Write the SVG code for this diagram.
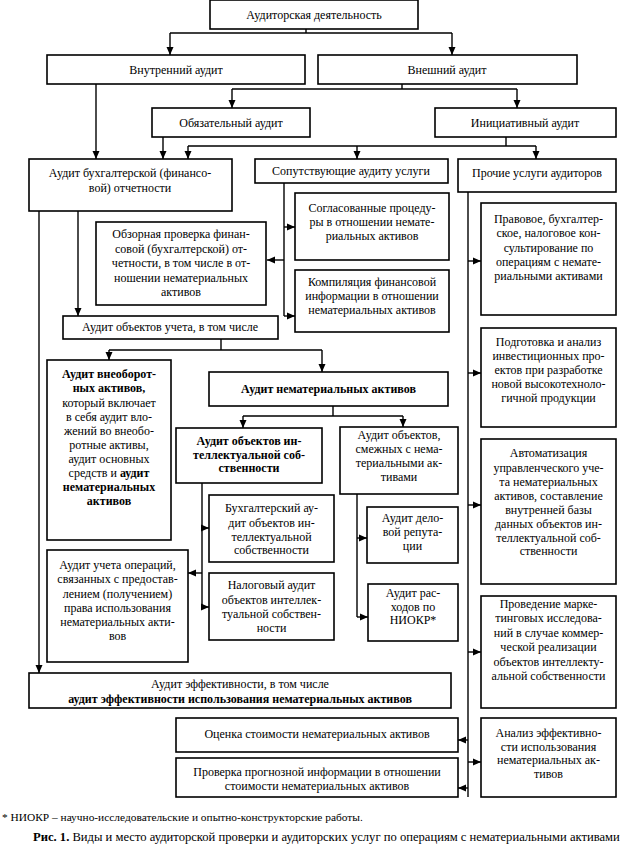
<svg xmlns="http://www.w3.org/2000/svg" width="625" height="847" viewBox="0 0 625 847">
<style>
rect{fill:#fff;stroke:#000;stroke-width:1.6}
text{font-family:"Liberation Serif","Times New Roman",serif;font-size:12px;fill:#000;text-anchor:middle}
.b{font-weight:bold}
.c path{fill:none;stroke:#000;stroke-width:1.4}
</style>
<defs>
<marker id="a" viewBox="0 0 8 8" refX="8" refY="4" markerWidth="8" markerHeight="8" markerUnits="userSpaceOnUse" orient="auto"><path d="M0,0.5 L8,4 L0,7.5 Z" fill="#000"/></marker>
</defs>
<rect x="0" y="0" width="625" height="847" style="fill:#fff;stroke:none"/>
<g class="c">
<path d="M306,29 V33 M170,33 H452"/>
<path d="M170,33 V55" marker-end="url(#a)"/>
<path d="M452,33 V55" marker-end="url(#a)"/>
<path d="M402,84 V89 M232,89 H517"/>
<path d="M232,89 V108" marker-end="url(#a)"/>
<path d="M517,89 V108" marker-end="url(#a)"/>
<path d="M96,84 V159" marker-end="url(#a)"/>
<path d="M163,137 V159" marker-end="url(#a)"/>
<path d="M506,137 V146 M188,146 H536"/>
<path d="M188,146 V159" marker-end="url(#a)"/>
<path d="M357,146 V159" marker-end="url(#a)"/>
<path d="M536,146 V159" marker-end="url(#a)"/>
<path d="M39,211 V673" marker-end="url(#a)"/>
<path d="M78,211 V316" marker-end="url(#a)"/>
<path d="M284,183 V316"/>
<path d="M284,227 H295" marker-end="url(#a)"/>
<path d="M284,260 H267" marker-end="url(#a)"/>
<path d="M284,316 H295" marker-end="url(#a)"/>
<path d="M221,339 V350 M109,350 H322"/>
<path d="M109,350 V360" marker-end="url(#a)"/>
<path d="M322,350 V372" marker-end="url(#a)"/>
<path d="M333,406 V416 M243,416 H403"/>
<path d="M243,416 V428" marker-end="url(#a)"/>
<path d="M403,416 V427" marker-end="url(#a)"/>
<path d="M202,483 V607"/>
<path d="M202,528 H209" marker-end="url(#a)"/>
<path d="M202,573 H188" marker-end="url(#a)"/>
<path d="M202,607 H209" marker-end="url(#a)"/>
<path d="M357,494 V617"/>
<path d="M357,538 H367" marker-end="url(#a)"/>
<path d="M357,617 H368" marker-end="url(#a)"/>
<path d="M468,192 V797"/>
<path d="M468,261 H481" marker-end="url(#a)"/>
<path d="M468,373 H481" marker-end="url(#a)"/>
<path d="M468,505 H481" marker-end="url(#a)"/>
<path d="M468,652 H481" marker-end="url(#a)"/>
<path d="M468,762 H481" marker-end="url(#a)"/>
<path d="M468,740 H458" marker-end="url(#a)"/>
<path d="M468,788 H458" marker-end="url(#a)"/>
</g>
<g id="n1"><rect x="210" y="0" width="208" height="29"/><text x="314" y="19">Аудиторская деятельность</text></g>
<g id="n2"><rect x="47" y="55" width="258" height="29"/><text x="176" y="74">Внутренний аудит</text></g>
<g id="n3"><rect x="318" y="55" width="259" height="29"/><text x="447" y="74">Внешний аудит</text></g>
<g id="n4"><rect x="152" y="108" width="158" height="29"/><text x="231" y="127">Обязательный аудит</text></g>
<g id="n5"><rect x="435" y="108" width="181" height="29"/><text x="525" y="127">Инициативный аудит</text></g>
<g id="n6"><rect x="29" y="159" width="203" height="52"/><text x="130" y="177">Аудит бухгалтерской (финансо-</text><text x="130" y="192">вой) отчетности</text></g>
<g id="n7"><rect x="255" y="159" width="193" height="24"/><text x="351" y="175">Сопутствующие аудиту услуги</text></g>
<g id="n8"><rect x="458" y="159" width="158" height="33"/><text x="537" y="177">Прочие услуги аудиторов</text></g>
<g id="n9"><rect x="96" y="222" width="170" height="83"/><text x="181" y="238">Обзорная проверка финан-</text><text x="181" y="252.5">совой (бухгалтерской) от-</text><text x="181" y="267">четности, в том числе в от-</text><text x="181" y="281.5">ношении нематериальных</text><text x="181" y="296">активов</text></g>
<g id="n10"><rect x="295" y="193" width="154" height="67"/><text x="372" y="212">Согласованные процеду-</text><text x="372" y="226">ры в отношении немате-</text><text x="372" y="240">риальных активов</text></g>
<g id="n11"><rect x="295" y="270" width="154" height="62"/><text x="372" y="286">Компиляция финансовой</text><text x="372" y="300">информации в отношении</text><text x="372" y="314">нематериальных активов</text></g>
<g id="n12"><rect x="63" y="316" width="215" height="23"/><text x="170" y="331">Аудит объектов учета, в том числе</text></g>
<g id="n13"><rect x="47" y="360" width="124" height="180"/>
<text x="109" y="378" class="b">Аудит внеоборот-</text>
<text x="109" y="392" class="b">ных активов,</text>
<text x="109" y="406.5">который включает</text>
<text x="109" y="420.5">в себя аудит вло-</text>
<text x="109" y="434.5">жений во внеобо-</text>
<text x="109" y="448.5">ротные активы,</text>
<text x="109" y="462.5">аудит основных</text>
<text x="109" y="476.5">средств и <tspan class="b">аудит</tspan></text>
<text x="109" y="490.5" class="b">нематериальных</text>
<text x="109" y="504.5" class="b">активов</text></g>
<g id="n14"><rect x="209" y="372" width="239" height="34"/><text x="328.5" y="393" class="b">Аудит нематериальных активов</text></g>
<g id="n15"><rect x="176" y="428" width="146" height="55"/><text x="249" y="445" class="b">Аудит объектов ин-</text><text x="249" y="458.5" class="b">теллектуальной соб-</text><text x="249" y="472" class="b">ственности</text></g>
<g id="n16"><rect x="340" y="427" width="118" height="67"/><text x="399" y="439">Аудит объектов,</text><text x="399" y="453">смежных с нема-</text><text x="399" y="467">териальными ак-</text><text x="399" y="481">тивами</text></g>
<g id="n17"><rect x="209" y="495" width="125" height="67"/><text x="271.5" y="512">Бухгалтерский ау-</text><text x="271.5" y="526.5">дит объектов ин-</text><text x="271.5" y="541">теллектуальной</text><text x="271.5" y="554">собственности</text></g>
<g id="n18"><rect x="367" y="507" width="91" height="56"/><text x="412.5" y="522">Аудит дело-</text><text x="412.5" y="536">вой репута-</text><text x="412.5" y="550">ции</text></g>
<g id="n19"><rect x="368" y="584" width="90" height="57"/><text x="413" y="597">Аудит рас-</text><text x="413" y="611">ходов по</text><text x="413" y="624">НИОКР*</text></g>
<g id="n20"><rect x="209" y="573" width="125" height="67"/><text x="271.5" y="589">Налоговый аудит</text><text x="271.5" y="604">объектов интеллек-</text><text x="271.5" y="617.5">туальной собствен-</text><text x="271.5" y="632">ности</text></g>
<g id="n21"><rect x="47" y="550" width="141" height="112"/><text x="117.5" y="569">Аудит учета операций,</text><text x="117.5" y="583">связанных с предостав-</text><text x="117.5" y="597.5">лением (получением)</text><text x="117.5" y="611.5">права использования</text><text x="117.5" y="626">нематериальных акти-</text><text x="117.5" y="639.5">вов</text></g>
<g id="n22"><rect x="29" y="673" width="422" height="35"/><text x="240" y="688">Аудит эффективности, в том числе</text><text x="240" y="703" class="b">аудит эффективности использования нематериальных активов</text></g>
<g id="n23"><rect x="176" y="718" width="282" height="34"/><text x="317" y="738">Оценка стоимости нематериальных активов</text></g>
<g id="n24"><rect x="176" y="758" width="282" height="39"/><text x="317" y="776">Проверка прогнозной информации в отношении</text><text x="317" y="790">стоимости нематериальных активов</text></g>
<g id="r1"><rect x="481" y="203" width="135" height="112"/><text x="548.5" y="223">Правовое, бухгалтер-</text><text x="548.5" y="237">ское, налоговое кон-</text><text x="548.5" y="251.5">сультирование по</text><text x="548.5" y="266">операциям с немате-</text><text x="548.5" y="280">риальными активами</text></g>
<g id="r2"><rect x="481" y="328" width="135" height="99"/><text x="548.5" y="346">Подготовка и анализ</text><text x="548.5" y="360">инвестиционных про-</text><text x="548.5" y="374">ектов при разработке</text><text x="548.5" y="387.5">новой высокотехноло-</text><text x="548.5" y="402">гичной продукции</text></g>
<g id="r3"><rect x="481" y="439" width="135" height="145"/><text x="548.5" y="457">Автоматизация</text><text x="548.5" y="471.5">управленческого уче-</text><text x="548.5" y="486">та нематериальных</text><text x="548.5" y="500">активов, составление</text><text x="548.5" y="514">внутренней базы</text><text x="548.5" y="528">данных объектов ин-</text><text x="548.5" y="541.5">теллектуальной соб-</text><text x="548.5" y="555">ственности</text></g>
<g id="r4"><rect x="481" y="596" width="135" height="112"/><text x="548.5" y="608">Проведение марке-</text><text x="548.5" y="622">тинговых исследова-</text><text x="548.5" y="637">ний в случае коммер-</text><text x="548.5" y="651">ческой реализации</text><text x="548.5" y="666">объектов интеллекту-</text><text x="548.5" y="680">альной собственности</text></g>
<g id="r5"><rect x="481" y="718" width="135" height="79"/><text x="548.5" y="737">Анализ эффективно-</text><text x="548.5" y="751">сти использования</text><text x="548.5" y="764">нематериальных ак-</text><text x="548.5" y="778">тивов</text></g>
<text x="2" y="821" style="text-anchor:start;font-size:11.4px">* НИОКР – научно-исследовательские и опытно-конструкторские работы.</text>
<text x="33" y="841" style="text-anchor:start;font-size:12.6px"><tspan class="b">Рис. 1.</tspan> Виды и место аудиторской проверки и аудиторских услуг по операциям с нематериальными активами</text>
</svg>
